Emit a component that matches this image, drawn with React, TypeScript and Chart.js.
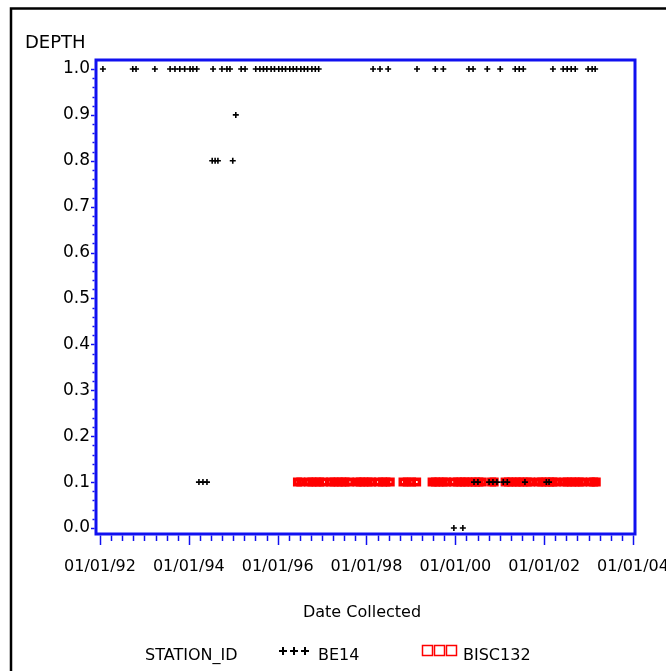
import { useEffect, useRef } from "react";
import { Chart, registerables } from "chart.js";

Chart.register(...registerables);

// BE14 samples: collection date and depth
const be14Dates = [
  "1992-01-25", "1992-09-27", "1992-10-24", "1993-03-28", "1993-07-31", "1993-09-09",
  "1993-10-19", "1993-11-28", "1994-01-11", "1994-02-04", "1994-03-07", "1994-07-19",
  "1994-09-30", "1994-11-10", "1994-12-05", "1995-03-07", "1995-04-08",
  "1995-07-05", "1995-08-08", "1995-09-06", "1995-10-04", "1995-11-08", "1995-12-06",
  "1996-01-10", "1996-02-07", "1996-03-06", "1996-04-10", "1996-05-08", "1996-06-05",
  "1996-07-10", "1996-08-07", "1996-09-04", "1996-10-09", "1996-11-06", "1996-12-04",
  "1998-02-24", "1998-04-22", "1998-06-28", "1999-02-20", "1999-07-20", "1999-09-24",
  "2000-04-22", "2000-05-26", "2000-09-20", "2001-01-05", "2001-05-08", "2001-06-10",
  "2001-07-13", "2002-03-14", "2002-06-06", "2002-07-09", "2002-08-11", "2002-09-13",
  "2002-12-28", "2003-01-30", "2003-02-24",
  "1995-01-22",
  "1994-07-12", "1994-08-05", "1994-08-28", "1994-12-28",
  "1994-03-25", "1994-04-27", "1994-05-30",
  "1999-12-20", "2000-03-03",
  "2000-06-03", "2000-07-05", "2000-10-05", "2000-11-06", "2000-12-09", "2001-01-30",
  "2001-03-04", "2001-07-27", "2002-01-19", "2002-02-10",
];
const be14Depths = [
  1.0, 1.0, 1.0, 1.0, 1.0, 1.0,
  1.0, 1.0, 1.0, 1.0, 1.0, 1.0,
  1.0, 1.0, 1.0, 1.0, 1.0,
  1.0, 1.0, 1.0, 1.0, 1.0, 1.0,
  1.0, 1.0, 1.0, 1.0, 1.0, 1.0,
  1.0, 1.0, 1.0, 1.0, 1.0, 1.0,
  1.0, 1.0, 1.0, 1.0, 1.0, 1.0,
  1.0, 1.0, 1.0, 1.0, 1.0, 1.0,
  1.0, 1.0, 1.0, 1.0, 1.0, 1.0,
  1.0, 1.0, 1.0,
  0.9,
  0.8, 0.8, 0.8, 0.8,
  0.1, 0.1, 0.1,
  0.0, 0.0,
  0.1, 0.1, 0.1, 0.1, 0.1, 0.1,
  0.1, 0.1, 0.1, 0.1,
];

// BISC132 samples: collection date and depth
const bisc132Dates = [
  "1996-06-12", "1996-07-10", "1996-09-11", "1996-10-09", "1996-11-13", "1996-12-11",
  "1997-01-15", "1997-03-12", "1997-04-09", "1997-05-14", "1997-06-11", "1997-07-09",
  "1997-08-13", "1997-10-15", "1997-11-12", "1997-12-10", "1998-01-14", "1998-02-11",
  "1998-04-08", "1998-05-13", "1998-06-10", "1998-07-15",
  "1998-10-28", "1998-12-02", "1999-01-06", "1999-02-17",
  "1999-06-24", "1999-07-22", "1999-08-19", "1999-09-23", "1999-10-21", "1999-12-16",
  "2000-01-20", "2000-02-17", "2000-03-16", "2000-04-13", "2000-05-18", "2000-06-15",
  "2000-07-13", "2000-08-10",
  "2000-10-26", "2000-11-16",
  "2001-02-14", "2001-03-14", "2001-04-11", "2001-05-16", "2001-06-13", "2001-07-11",
  "2001-08-15", "2001-09-12", "2001-11-14", "2001-12-12", "2002-01-16", "2002-02-13",
  "2002-03-13", "2002-04-10", "2002-06-12", "2002-07-10", "2002-08-14", "2002-09-11",
  "2002-10-16", "2002-11-13", "2003-01-15", "2003-02-12", "2003-03-05",
];
const bisc132Depths = [
  0.1, 0.1, 0.1, 0.1, 0.1, 0.1,
  0.1, 0.1, 0.1, 0.1, 0.1, 0.1,
  0.1, 0.1, 0.1, 0.1, 0.1, 0.1,
  0.1, 0.1, 0.1, 0.1,
  0.1, 0.1, 0.1, 0.1,
  0.1, 0.1, 0.1, 0.1, 0.1, 0.1,
  0.1, 0.1, 0.1, 0.1, 0.1, 0.1,
  0.1, 0.1,
  0.1, 0.1,
  0.1, 0.1, 0.1, 0.1, 0.1, 0.1,
  0.1, 0.1, 0.1, 0.1, 0.1, 0.1,
  0.1, 0.1, 0.1, 0.1, 0.1, 0.1,
  0.1, 0.1, 0.1, 0.1, 0.1,
];

// Axis ticks
const xTickYears = [1992, 1994, 1996, 1998, 2000, 2002, 2004];
const xTickLabels = ["01/01/92", "01/01/94", "01/01/96", "01/01/98", "01/01/00", "01/01/02", "01/01/04"];
const yTickValues = [0, 0.1, 0.2, 0.3, 0.4, 0.5, 0.6, 0.7, 0.8, 0.9, 1.0];
const yTickLabels = ["0.0", "0.1", "0.2", "0.3", "0.4", "0.5", "0.6", "0.7", "0.8", "0.9", "1.0"];

const FONT = "DejaVu Sans";
const AXIS_BLUE = "#1010f0";

// Date string -> fractional year, so the linear axis reads in years
function toYear(s: string): number {
  const [y, m, d] = s.split("-").map(Number);
  const start = Date.UTC(y, 0, 1);
  const end = Date.UTC(y + 1, 0, 1);
  return y + (Date.UTC(y, m - 1, d) - start) / (end - start);
}

function toPoints(dates: string[], depths: number[]) {
  return dates.map((d, i) => ({ x: toYear(d), y: depths[i] }));
}

const decorPlugin = {
  id: "decor",
  beforeDraw(chart: any) {
    const { ctx, width, height } = chart;
    ctx.save();
    ctx.fillStyle = "#ffffff";
    ctx.fillRect(0, 0, width, height);

    // outer frame
    ctx.strokeStyle = "#000000";
    ctx.lineWidth = 2.5;
    ctx.strokeRect(11, 8.5, 720, 720);

    ctx.fillStyle = "#000000";
    ctx.textBaseline = "alphabetic";

    // vertical axis label
    ctx.font = `18px "${FONT}"`;
    ctx.textAlign = "left";
    ctx.fillText("DEPTH", 25, 48);

    // horizontal axis label
    ctx.font = `16px "${FONT}"`;
    ctx.textAlign = "center";
    ctx.fillText("Date Collected", 362, 617);

    // legend
    ctx.textAlign = "left";
    ctx.fillText("STATION_ID", 145, 660);

    ctx.strokeStyle = "#000000";
    ctx.lineWidth = 2;
    for (const cx of [283, 294, 305]) {
      ctx.beginPath();
      ctx.moveTo(cx - 4, 651);
      ctx.lineTo(cx + 4, 651);
      ctx.moveTo(cx, 647);
      ctx.lineTo(cx, 655);
      ctx.stroke();
    }
    ctx.fillText("BE14", 318, 660);

    ctx.strokeStyle = "#ff0000";
    ctx.lineWidth = 1.5;
    for (const lx of [422.5, 434.5, 446.5]) {
      ctx.strokeRect(lx, 645.5, 10, 10);
    }
    ctx.fillText("BISC132", 463, 660);
    ctx.restore();
  },
  afterDatasetsDraw(chart: any) {
    const { ctx, chartArea } = chart;
    const xs = chart.scales.x;
    const ys = chart.scales.y;
    ctx.save();
    ctx.strokeStyle = AXIS_BLUE;

    // x ticks: quarterly, longer every two years
    ctx.lineWidth = 1.5;
    for (let q = 0; q <= 48; q++) {
      const v = 1992 + q / 4;
      const px = Math.round(xs.getPixelForValue(v)) + 0.5;
      const major = q % 8 === 0;
      ctx.beginPath();
      ctx.moveTo(px, chartArea.bottom + 1.5);
      ctx.lineTo(px, chartArea.bottom + (major ? 11 : 7));
      ctx.stroke();
    }

    // y ticks: every 0.02, longer every 0.1
    for (let k = 0; k <= 50; k++) {
      const v = k / 50;
      const py = Math.round(ys.getPixelForValue(v)) + 0.5;
      const major = k % 5 === 0;
      ctx.beginPath();
      ctx.moveTo(chartArea.left - 1.5, py);
      ctx.lineTo(chartArea.left - (major ? 5 : 3.5), py);
      ctx.stroke();
    }

    // plot frame
    ctx.lineWidth = 3;
    ctx.strokeRect(chartArea.left, chartArea.top, chartArea.right - chartArea.left, chartArea.bottom - chartArea.top);
    ctx.restore();
  },
};

export default function App() {
  const canvasRef = useRef<HTMLCanvasElement>(null);

  useEffect(() => {
    const canvas = canvasRef.current;
    if (!canvas) return;
    Chart.defaults.font.family = FONT;
    Chart.defaults.color = "#000000";

    const chart = new Chart(canvas, {
      type: "scatter",
      data: {
        datasets: [
          {
            label: "BE14",
            data: toPoints(be14Dates, be14Depths),
            pointStyle: "cross",
            pointRadius: 3,
            pointBorderWidth: 1.6,
            borderColor: "#000000",
            backgroundColor: "#000000",
          },
          {
            label: "BISC132",
            data: toPoints(bisc132Dates, bisc132Depths),
            pointStyle: "rect",
            pointRadius: 3.9,
            pointBorderWidth: 3.5,
            borderColor: "#ff0000",
            backgroundColor: "rgba(0,0,0,0)",
          },
        ],
      },
      options: {
        responsive: false,
        animation: false,
        events: [],
        layout: { padding: { left: 0, top: 60, right: 31, bottom: 0 }, autoPadding: false },
        plugins: {
          legend: { display: false },
          tooltip: { enabled: false },
        },
        scales: {
          x: {
            type: "linear",
            min: 1991.91,
            max: 2004.045,
            grid: { display: false, drawTicks: false },
            border: { display: false },
            afterFit: (scale: any) => {
              scale.height = 137;
              // the last date label may run off the canvas edge
              scale.paddingLeft = 0;
              scale.paddingRight = 0;
            },
            afterBuildTicks: (scale: any) => {
              scale.ticks = xTickYears.map((v) => ({ value: v }));
            },
            ticks: {
              autoSkip: false,
              maxRotation: 0,
              minRotation: 0,
              padding: 23,
              font: { size: 16, family: FONT },
              color: "#000000",
              callback: (_v: any, i: number) => xTickLabels[i],
            },
          },
          y: {
            type: "linear",
            min: -0.0131,
            max: 1.0196,
            grid: { display: false, drawTicks: false },
            border: { display: false },
            afterFit: (scale: any) => {
              scale.width = 96;
              scale.paddingTop = 0;
              scale.paddingBottom = 0;
            },
            afterBuildTicks: (scale: any) => {
              scale.ticks = yTickValues.map((v) => ({ value: v }));
            },
            ticks: {
              autoSkip: false,
              padding: 6,
              font: { size: 17, family: FONT },
              color: "#000000",
              callback: (_v: any, i: number) => yTickLabels[i],
            },
          },
        },
      },
      plugins: [decorPlugin],
    });

    return () => chart.destroy();
  }, []);

  return (
    <div style={{ position: "fixed", left: 0, top: 0, width: 666, height: 671, background: "#ffffff" }}>
      <canvas ref={canvasRef} width={666} height={671} style={{ display: "block", width: 666, height: 671 }} />
    </div>
  );
}
